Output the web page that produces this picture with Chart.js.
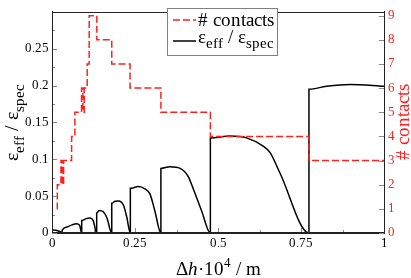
<!DOCTYPE html>
<html>
<head>
<meta charset="utf-8">
<script src="https://cdn.jsdelivr.net/npm/chart.js@4"></script>
<style>
  @font-face { font-family: 'PlotSerif'; src: local('Liberation Serif'), local('LiberationSerif'), local('DejaVu Serif'), local('DejaVuSerif'); }
  @font-face { font-family: 'PlotSerif'; font-style: italic; src: local('Liberation Serif Italic'), local('LiberationSerif-Italic'), local('DejaVu Serif Italic'), local('DejaVuSerif-Italic'); }
  body { margin: 0; background: #fff; }
  canvas { display: block; }
</style>
</head>
<body>
<canvas id="js--chart" width="411" height="278"></canvas>
<script>
// number of contacts, step changes (value holds from x until the next x)
const contactsX = [0.014, 0.016, 0.027, 0.031, 0.035, 0.059, 0.069, 0.089, 0.093, 0.097, 0.106, 0.112, 0.135, 0.18, 0.235, 0.328, 0.477, 0.774, 1.0];
const contactsN = [1, 2, 3, 2, 3, 4, 5, 6, 5, 6, 7, 9, 8, 7, 6, 5, 4, 3, 3];

// eps_eff / eps_spec
const ratioX = [0, 0.012, 0.024, 0.03,
    0.031, 0.045, 0.06, 0.074, 0.083, 0.0895,
    0.0895, 0.103, 0.1145, 0.124, 0.1346,
    0.1346, 0.142, 0.15, 0.165, 0.18,
    0.18, 0.19, 0.2, 0.215, 0.225, 0.236,
    0.236, 0.26, 0.28, 0.295, 0.31, 0.328,
    0.328, 0.355, 0.386, 0.41, 0.4256, 0.451, 0.477,
    0.477, 0.536, 0.586, 0.636, 0.657, 0.687, 0.774,
    0.774, 0.827, 0.898, 1.0];
const ratioY = [0.004, 0.0038, 0.002, 0.0005,
    0.004, 0.008, 0.011, 0.0125, 0.0105, 0,
    0.0168, 0.0195, 0.0202, 0.0168, 0,
    0.027, 0.0305, 0.03, 0.021, 0,
    0.0403, 0.043, 0.0434, 0.038, 0.022, 0,
    0.0606, 0.063, 0.0597, 0.053, 0.0296, 0,
    0.0876, 0.0898, 0.0876, 0.0769, 0.0597, 0.0296, 0,
    0.129, 0.1314, 0.129, 0.1177, 0.109, 0.081, 0,
    0.195, 0.199, 0.2015, 0.199];

const xTicks = [0, 0.25, 0.5, 0.75, 1];
const xMinor = [0.125, 0.375, 0.625, 0.875];
const leftTicks = [0, 0.05, 0.1, 0.15, 0.2, 0.25];
const leftMinor = [0.025, 0.075, 0.125, 0.175, 0.225, 0.275];
const rightTicks = [0, 1, 2, 3, 4, 5, 6, 7, 8, 9];

const serif = "PlotSerif, 'Liberation Serif', serif";
const red = '#ff2020';

function toPoints(xs, ys) {
    return xs.map(function (x, i) { return { x: x, y: ys[i] }; });
}

function fontOf(p) {
    return (p.italic ? 'italic ' : '') + p.size + 'px ' + serif;
}
function richWidth(ctx, parts) {
    let w = 0;
    parts.forEach(function (p) { ctx.font = fontOf(p); w += ctx.measureText(p.t).width; });
    return w;
}
function drawRich(ctx, parts, x, y) {
    parts.forEach(function (p) {
        ctx.font = fontOf(p);
        ctx.fillText(p.t, x, y + (p.dy || 0));
        x += ctx.measureText(p.t).width;
    });
}
function epsParts(big, small, dy) {
    return [
        { t: 'ε', size: big }, { t: 'eff', size: small, dy: dy },
        { t: ' / ', size: big },
        { t: 'ε', size: big }, { t: 'spec', size: small, dy: dy }
    ];
}

const decor = {
    id: 'decor',
    afterDatasetsDraw: function (chart) {
        const ctx = chart.ctx;
        const a = chart.chartArea;
        const sx = chart.scales.x, sl = chart.scales.y, sr = chart.scales.yRight;
        ctx.save();
        // inward ticks
        ctx.strokeStyle = '#888';
        ctx.lineWidth = 1;
        ctx.beginPath();
        xTicks.concat(xMinor).forEach(function (v, i) {
            const len = i < xTicks.length ? 5 : 3;
            const px = Math.round(sx.getPixelForValue(v)) + 0.5;
            ctx.moveTo(px, a.bottom); ctx.lineTo(px, a.bottom - len);
        });
        leftTicks.concat(leftMinor).forEach(function (v, i) {
            const len = i < leftTicks.length ? 5 : 3;
            const py = Math.round(sl.getPixelForValue(v)) + 0.5;
            ctx.moveTo(a.left, py); ctx.lineTo(a.left + len, py);
        });
        rightTicks.forEach(function (v) {
            const py = Math.round(sr.getPixelForValue(v)) + 0.5;
            ctx.moveTo(a.right, py); ctx.lineTo(a.right - 5, py);
        });
        ctx.stroke();
        // frame
        ctx.strokeStyle = '#222';
        ctx.strokeRect(Math.round(a.left) + 0.5, Math.round(a.top) + 0.5,
            Math.round(a.right - a.left), Math.round(a.bottom - a.top) - 1);

        // legend
        const ds = chart.data.datasets;
        ctx.fillStyle = '#fff';
        ctx.fillRect(167.5, 8.5, 110, 47);
        ctx.strokeStyle = '#808080';
        ctx.strokeRect(167.5, 8.5, 110, 47);
        ctx.lineWidth = ds[0].borderWidth;
        ctx.strokeStyle = ds[0].borderColor;
        ctx.setLineDash(ds[0].borderDash);
        ctx.beginPath(); ctx.moveTo(173, 20); ctx.lineTo(196, 20); ctx.stroke();
        ctx.setLineDash([]);
        ctx.lineWidth = ds[1].borderWidth;
        ctx.strokeStyle = ds[1].borderColor;
        ctx.beginPath(); ctx.moveTo(173, 41); ctx.lineTo(196, 41); ctx.stroke();
        ctx.fillStyle = '#000';
        ctx.textAlign = 'left';
        ctx.textBaseline = 'alphabetic';
        drawRich(ctx, [{ t: ds[0].label, size: 19 }], 198, 26);
        drawRich(ctx, epsParts(19, 15, 5), 198, 43);

        // axis titles
        const lp = epsParts(20, 15, 6);
        ctx.save();
        ctx.translate(17.5, (a.top + a.bottom) / 2);
        ctx.rotate(-Math.PI / 2);
        drawRich(ctx, lp, -richWidth(ctx, lp) / 2, 0);
        ctx.restore();

        const rp = [{ t: '# contacts', size: 19 }];
        ctx.save();
        ctx.fillStyle = red;
        ctx.translate(409, (a.top + a.bottom) / 2);
        ctx.rotate(-Math.PI / 2);
        drawRich(ctx, rp, -richWidth(ctx, rp) / 2, 0);
        ctx.restore();

        const xp = [{ t: 'Δ', size: 19 }, { t: 'h', size: 19, italic: true }, { t: '·10', size: 19 },
            { t: '4', size: 13, dy: -8 }, { t: ' / m', size: 19 }];
        drawRich(ctx, xp, (a.left + a.right) / 2 - richWidth(ctx, xp) / 2, 275);
        ctx.restore();
    }
};

const tickFont = { family: serif, size: 13 };

const config = {
    type: 'line',
    data: {
        datasets: [
            {
                label: '# contacts',
                data: toPoints(contactsX, contactsN),
                yAxisID: 'yRight',
                borderColor: red,
                borderDash: [7, 3],
                borderWidth: 1.5,
                stepped: 'before',
                pointRadius: 0,
                fill: false
            },
            {
                label: 'eff / spec',
                data: toPoints(ratioX, ratioY),
                yAxisID: 'y',
                borderColor: '#000',
                borderWidth: 1.5,
                cubicInterpolationMode: 'monotone',
                pointRadius: 0,
                fill: false
            }
        ]
    },
    options: {
        responsive: false,
        animation: false,
        devicePixelRatio: 1,
        layout: { padding: { top: 1, left: 0, right: 0, bottom: 0 } },
        plugins: { legend: { display: false }, tooltip: { enabled: false } },
        scales: {
            x: {
                type: 'linear', min: 0, max: 1,
                afterBuildTicks: function (s) { s.ticks = xTicks.map(function (v) { return { value: v }; }); },
                afterFit: function (s) { s.height = 45; },
                ticks: { font: tickFont, color: '#000', padding: 3, maxRotation: 0, callback: function (v) { return String(v); } },
                grid: { drawOnChartArea: false, drawTicks: false },
                border: { color: '#222' }
            },
            y: {
                type: 'linear', position: 'left', min: 0, max: 0.3,
                afterBuildTicks: function (s) { s.ticks = leftTicks.map(function (v) { return { value: v }; }); },
                afterFit: function (s) { s.width = 52; },
                ticks: { font: tickFont, color: '#000', padding: 3, callback: function (v) { return String(v); } },
                grid: { drawOnChartArea: false, drawTicks: false },
                border: { color: '#222' }
            },
            yRight: {
                type: 'linear', position: 'right', min: 0, max: 9.16,
                afterBuildTicks: function (s) { s.ticks = rightTicks.map(function (v) { return { value: v }; }); },
                afterFit: function (s) { s.width = 27; },
                ticks: { font: tickFont, color: red, padding: 4, callback: function (v) { return String(v); } },
                grid: { drawOnChartArea: false, drawTicks: false },
                border: { color: '#222' }
            }
        }
    },
    plugins: [decor]
};

Promise.all([
    document.fonts.load('13px PlotSerif'),
    document.fonts.load('italic 19px PlotSerif')
]).catch(function () {}).then(function () {
    new Chart(document.getElementById('js--chart'), config);
});
</script>
</body>
</html>
